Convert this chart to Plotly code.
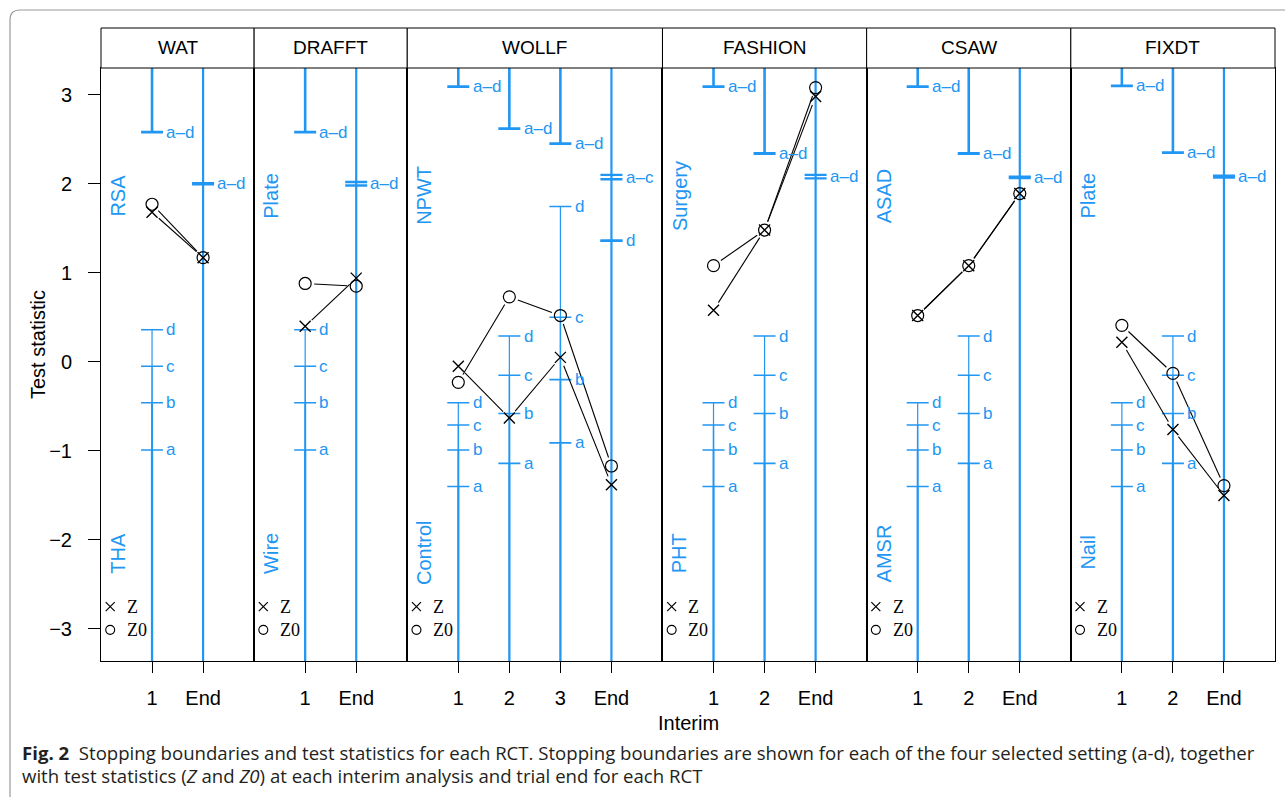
import math
import plotly.graph_objects as go
from plotly.subplots import make_subplots

# ---------------- data ----------------
trials = ["WAT", "DRAFFT", "WOLLF", "FASHION", "CSAW", "FIXDT"]
interim_labels = [["1", "End"], ["1", "End"], ["1", "2", "3", "End"],
                  ["1", "2", "End"], ["1", "2", "End"], ["1", "2", "End"]]
arm_upper = ["RSA", "Plate", "NPWT", "Surgery", "ASAD", "Plate"]
arm_lower = ["THA", "Wire", "Control", "PHT", "AMSR", "Nail"]

# efficacy boundary (identical for settings a-d) at each interim before End
efficacy = [[2.58], [2.58], [3.09, 2.62, 2.45], [3.09, 2.34], [3.09, 2.34], [3.10, 2.35]]
# futility boundaries for settings a, b, c, d at each interim before End
futility = [
    [[-0.99, -0.46, -0.05, 0.36]],
    [[-0.99, -0.46, -0.05, 0.36]],
    [[-1.40, -0.99, -0.71, -0.46], [-1.14, -0.58, -0.15, 0.29], [-0.91, -0.20, 0.50, 1.745]],
    [[-1.40, -0.99, -0.71, -0.46], [-1.14, -0.58, -0.15, 0.29]],
    [[-1.40, -0.99, -0.71, -0.46], [-1.14, -0.58, -0.15, 0.29]],
    [[-1.40, -0.99, -0.71, -0.46], [-1.14, -0.58, -0.15, 0.29]],
]
setting_names = ["a", "b", "c", "d"]
# final (End) boundaries: label, upper, lower
final_labels = [["a–d"], ["a–d"], ["a–c", "d"], ["a–d"], ["a–d"], ["a–d"]]
final_upper = [[2.005], [2.02], [2.10, 1.36], [2.10], [2.08], [2.09]]
final_lower = [[1.995], [1.98], [2.05, 1.36], [2.06], [2.065], [2.07]]

# test statistics at each interim and End
Z = [[1.68, 1.17], [0.40, 0.94], [-0.05, -0.63, 0.05, -1.38],
     [0.58, 1.48, 2.98], [0.52, 1.08, 1.89], [0.22, -0.76, -1.50]]
Z0 = [[1.77, 1.17], [0.88, 0.85], [-0.23, 0.73, 0.52, -1.17],
      [1.08, 1.48, 3.08], [0.52, 1.08, 1.89], [0.41, -0.13, -1.39]]

yticks = [-3, -2, -1, 0, 1, 2, 3]

# ---------------- layout constants ----------------
W, H = 1285, 797
ML, MR, MT, MB = 101, 10, 68, 136
PW, PH = W - ML - MR, H - MT - MB
YMIN, YMAX = -3.36, 3.30
BLUE = "#2196F3"
FONT = "Liberation Sans, Arial, sans-serif"
SERIF = "Liberation Serif, Times New Roman, serif"

widths = [len(l) + 1 for l in interim_labels]
PXU = PW / sum(widths)          # pixels per x unit
PYU = PH / (YMAX - YMIN)        # pixels per y unit
TICKHALF = 11 / PXU


def px_x(p):
    return (p - ML) / PW


def px_y(p):
    return (H - MB - p) / PH


fig = make_subplots(rows=1, cols=len(trials), column_widths=widths, horizontal_spacing=0)


def seg(col, xs, ys, color, width):
    fig.add_trace(go.Scatter(x=xs, y=ys, mode="lines", line=dict(color=color, width=width),
                             hoverinfo="skip", showlegend=False), row=1, col=col)


def label(col, x, y, text, size=17, color=BLUE, **kw):
    fig.add_annotation(x=x, y=y, text=text, showarrow=False, xanchor="left", yanchor="middle",
                       font=dict(family=FONT, size=size, color=color), row=1, col=col, **kw)


for i, name in enumerate(trials):
    col = i + 1
    n = len(interim_labels[i])
    # interim boundaries
    for k, eff in enumerate(efficacy[i]):
        pos = k + 1
        seg(col, [pos, pos], [YMAX, eff], BLUE, 2.6)
        seg(col, [pos - TICKHALF, pos + TICKHALF], [eff, eff], BLUE, 2.8)
        label(col, pos + 0.24, eff, "a–d")
        fut = futility[i][k]
        lows = [YMIN] + fut[:-1]
        for j, (lo, hi) in enumerate(zip(lows, fut)):
            seg(col, [pos, pos], [lo, hi], BLUE, [2.3, 2.0, 1.6, 1.2][j])
        for j, v in enumerate(fut):
            seg(col, [pos - TICKHALF, pos + TICKHALF], [v, v], BLUE, 1.6)
            label(col, pos + 0.24, v, setting_names[j])
    # End
    seg(col, [n, n], [YMIN, YMAX], BLUE, 2.2)
    for lab, up, lo in zip(final_labels[i], final_upper[i], final_lower[i]):
        seg(col, [n - TICKHALF, n + TICKHALF], [up, up], BLUE, 2.4)
        seg(col, [n - TICKHALF, n + TICKHALF], [lo, lo], BLUE, 2.4)
        label(col, n + 0.24, (up + lo) / 2, lab)

    # test statistic lines with gaps around points
    xs = list(range(1, n + 1))
    for series in (Z[i], Z0[i]):
        gap = 9
        for a in range(n - 1):
            x0, y0, x1, y1 = xs[a], series[a], xs[a + 1], series[a + 1]
            dxp, dyp = (x1 - x0) * PXU, (y1 - y0) * PYU
            L = math.hypot(dxp, dyp)
            if L <= 2 * gap:
                continue
            f = gap / L
            seg(col, [x0 + (x1 - x0) * f, x1 - (x1 - x0) * f],
                [y0 + (y1 - y0) * f, y1 - (y1 - y0) * f], "black", 1.1)
    fig.add_trace(go.Scatter(x=xs, y=Z[i], mode="markers",
                             marker=dict(symbol="x-thin-open", size=11, color="black",
                                         line=dict(color="black", width=1.4)),
                             hoverinfo="skip", showlegend=False), row=1, col=col)
    fig.add_trace(go.Scatter(x=xs, y=Z0[i], mode="markers",
                             marker=dict(symbol="circle-open", size=12, color="black",
                                         line=dict(color="black", width=1.2)),
                             hoverinfo="skip", showlegend=False), row=1, col=col)

    # in-panel key
    fig.add_trace(go.Scatter(x=[0.18], y=[-2.75], mode="markers",
                             marker=dict(symbol="x-thin-open", size=9, color="black",
                                         line=dict(color="black", width=1.2)),
                             hoverinfo="skip", showlegend=False), row=1, col=col)
    fig.add_trace(go.Scatter(x=[0.18], y=[-3.01], mode="markers",
                             marker=dict(symbol="circle-open", size=9, color="black",
                                         line=dict(color="black", width=1.1)),
                             hoverinfo="skip", showlegend=False), row=1, col=col)
    fig.add_annotation(x=0.47, y=-2.75, text="Z", showarrow=False, xanchor="left",
                       font=dict(family=SERIF, size=18, color="black"), row=1, col=col)
    fig.add_annotation(x=0.47, y=-3.01, text="Z0", showarrow=False, xanchor="left",
                       font=dict(family=SERIF, size=18, color="black"), row=1, col=col)

    # arm labels
    for txt, yy in ((arm_upper[i], 1.865), (arm_lower[i], -2.146)):
        fig.add_annotation(x=0.33, y=yy, text=txt, showarrow=False, textangle=-90,
                           xanchor="center", yanchor="middle",
                           font=dict(family=FONT, size=20, color=BLUE), row=1, col=col)

    # axes
    xa = dict(range=[0, n + 1], tickvals=xs, ticktext=interim_labels[i], ticks="outside",
              ticklen=11, tickcolor="black", tickwidth=1, showline=True, mirror=True,
              linecolor="black", linewidth=1, showgrid=False, zeroline=False,
              tickfont=dict(family=FONT, size=20, color="black"), ticklabelstandoff=8)
    ya = dict(range=[YMIN, YMAX], showgrid=False, zeroline=False, showline=True, mirror=True,
              linecolor="black", linewidth=1)
    if col == 1:
        ya.update(tickvals=yticks, ticks="outside", ticklen=12, tickcolor="black",
                  tickfont=dict(family=FONT, size=20, color="black"), ticklabelstandoff=12)
    else:
        ya.update(showticklabels=False, ticks="")
    fig.update_xaxes(row=1, col=col, **xa)
    fig.update_yaxes(row=1, col=col, **ya)

# strip headers
strip_h = 40 / PH
for i, name in enumerate(trials):
    dom = fig.layout["xaxis" if i == 0 else f"xaxis{i + 1}"].domain
    fig.add_shape(type="rect", xref="paper", yref="paper", x0=dom[0], x1=dom[1],
                  y0=1, y1=1 + strip_h, line=dict(color="black", width=1), fillcolor="white")
    fig.add_annotation(xref="paper", yref="paper", x=(dom[0] + dom[1]) / 2, y=1 + strip_h / 2,
                       text=name, showarrow=False, xanchor="center", yanchor="middle",
                       font=dict(family=FONT, size=19, color="black"))

# axis titles
fig.add_annotation(xref="paper", yref="paper", x=px_x(38), y=px_y(345), text="Test statistic",
                   textangle=-90, showarrow=False, xanchor="center", yanchor="middle",
                   font=dict(family=FONT, size=20, color="black"))
fig.add_annotation(xref="paper", yref="paper", x=0.5, y=px_y(723), text="Interim",
                   showarrow=False, xanchor="center", yanchor="middle",
                   font=dict(family=FONT, size=20, color="black"))

# outer frame
fig.add_shape(type="path", xref="paper", yref="paper",
              path=f"M {px_x(1300)},{px_y(10)} L {px_x(20)},{px_y(10)} "
                   f"Q {px_x(10)},{px_y(10)} {px_x(10)},{px_y(20)} L {px_x(10)},{px_y(800)}",
              line=dict(color="#9a9a9a", width=1.2))

# caption
CAP = "Open Sans, Noto Sans, sans-serif"
fig.add_annotation(xref="paper", yref="paper", x=px_x(20), y=px_y(752), xanchor="left",
                   yanchor="middle", showarrow=False,
                   text="<b>Fig. 2</b>  Stopping boundaries and test statistics for each RCT. "
                        "Stopping boundaries are shown for each of the four selected setting (a-d), together",
                   font=dict(family=CAP, size=18.6, color="#231f20"))
fig.add_annotation(xref="paper", yref="paper", x=px_x(20), y=px_y(775), xanchor="left",
                   yanchor="middle", showarrow=False,
                   text="with test statistics (<i>Z</i> and <i>Z0</i>) at each interim analysis "
                        "and trial end for each RCT",
                   font=dict(family=CAP, size=18.6, color="#231f20"))

fig.update_layout(width=W, height=H, margin=dict(l=ML, r=MR, t=MT, b=MB),
                  paper_bgcolor="white", plot_bgcolor="white", showlegend=False)

fig.write_html("out.html", config={"displayModeBar": False},
               post_script="document.body.style.margin='0';document.body.style.overflow='hidden';")
